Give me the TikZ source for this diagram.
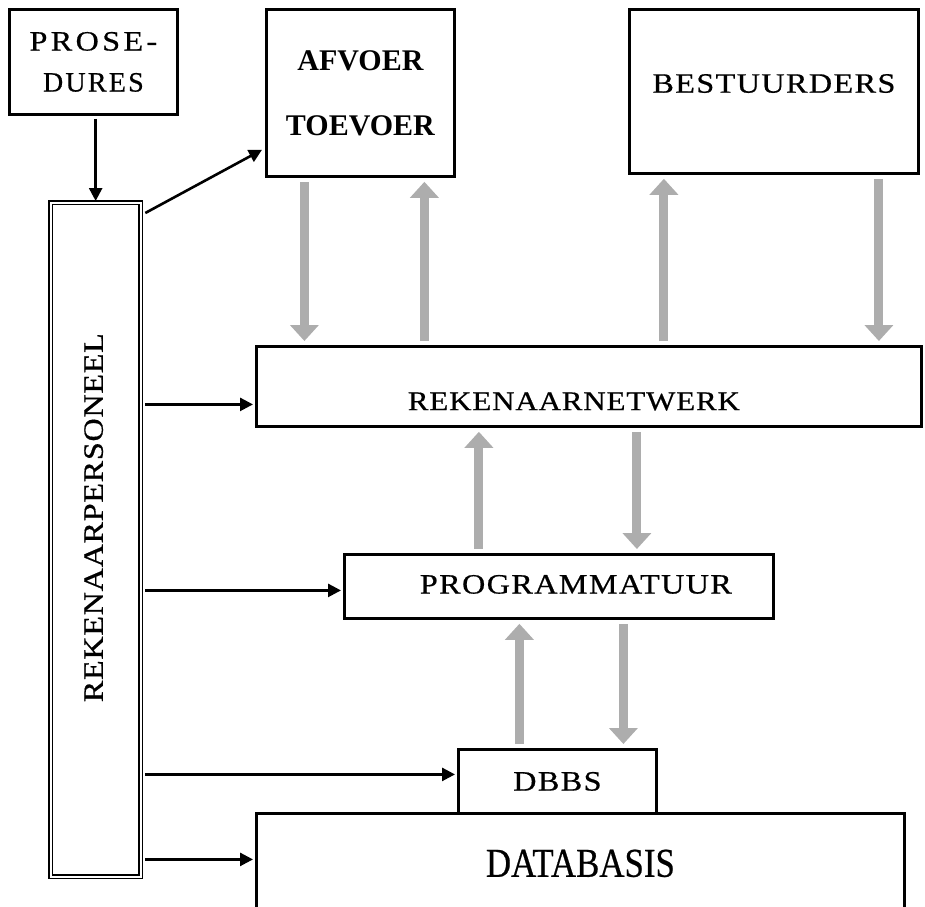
\documentclass[tikz,border=0pt]{standalone}
\usepackage{fontspec}
\setmainfont{Liberation Serif}
\newfontfamily\narrowfont[FakeStretch=0.85,FakeBold=0.5]{Liberation Serif}
\newfontfamily\widefont[FakeStretch=1.15,FakeBold=0.6]{Liberation Serif}
\usetikzlibrary{arrows.meta,positioning,calc}

\tikzset{
  box/.style={draw, line width=2.8pt, inner sep=0pt, anchor=north west},
  lbl/.style={font=\widefont\fontsize{28}{32}\selectfont\addfontfeature{LetterSpace=#1}},
  lbl/.default=5,
  arr/.style={line width=2.6pt, -{Triangle[width=13pt,length=13pt]}},
  flow/.style={line width=9pt, black!32, -{Triangle[width=28pt,length=16pt]},
    shorten <=4pt, shorten >=4pt}
}

\begin{document}
\begin{tikzpicture}[x=1pt,y=-1pt]
  \useasboundingbox (0,0) rectangle (925,906);

  % boxes
  \node[box, minimum width=168pt, minimum height=105pt, align=center,
    font=\fontsize{28}{41}\selectfont] (pros) at (8,8)
    {{\widefont\addfontfeature{LetterSpace=12}PROSE-}\\
     {\addfontfeature{LetterSpace=8,FakeBold=0.6}DURES}};
  \node[box, minimum width=188pt, minimum height=167pt, align=center,
    font=\bfseries\fontsize{30}{65}\selectfont] (afv) at (265,8) {AFVOER\\TOEVOER};
  \node[box, lbl, minimum width=289pt, minimum height=164pt,
    text depth=16pt] (best) at (628,8) {BESTUURDERS};
  \node[box, minimum width=665pt, minimum height=80pt] (rn) at (255,345) {};
  \node[box, minimum width=429pt, minimum height=64pt] (prog) at (343,553) {};
  \node[box, lbl, minimum width=198pt, minimum height=64pt] (dbbs) at (457,748) {DBBS};
  \node[box, minimum width=648pt, minimum height=100pt,
    font=\narrowfont\fontsize{41}{48}\selectfont] (db) at (255,812) {DATABASIS};
  \node[box, line width=1.3pt, double, double distance=2pt,
    minimum width=90pt, minimum height=674pt] (rp) at (50,202) {};

  % texts
  \node[font=\widefont\fontsize{27}{30}\selectfont\addfontfeature{LetterSpace=3},
    xshift=-15pt, yshift=-15pt] (rntext) at (rn.center) {REKENAARNETWERK};
  \node[lbl, xshift=17pt, yshift=2pt] (progtext) at (prog.center) {PROGRAMMATUUR};
  \node[lbl=2.5, rotate=90, xshift=22pt, yshift=2pt]
    (rptext) at (rp.center) {REKENAARPERSONEEL};

  % black arrows
  \draw[arr, shorten <=3pt, shorten >=1pt] (rp.north |- pros.south) -- (rp.north);
  \draw[arr] ([xshift=4pt,yshift=-11pt]rp.north east) -- ([xshift=-3pt,yshift=28pt]afv.south west);

  \coordinate (rnin) at ([yshift=-18pt]rn.west);
  \coordinate (progin) at ([yshift=-4pt]prog.west);
  \coordinate (dbbsin) at ([yshift=7pt]dbbs.west);
  \coordinate (dbin) at ([yshift=4pt]db.west);
  \foreach \t in {rnin,progin,dbbsin,dbin}
    \draw[arr, shorten <=4pt, shorten >=2pt] (rp.east |- \t) -- (\t);

  % grey flows
  \draw[flow] ([xshift=-56pt]afv.south) -- ([xshift=-56pt]afv.south |- rn.north);
  \draw[flow] ([xshift=64pt]afv.south |- rn.north) -- ([xshift=64pt]afv.south);
  \draw[flow] ([xshift=-110pt]best.south |- rn.north) -- ([xshift=-110pt]best.south);
  \draw[flow] ([xshift=105pt]best.south) -- ([xshift=105pt]best.south |- rn.north);

  \draw[flow] ([xshift=-80pt]prog.north) -- ([xshift=-80pt]prog.north |- rn.south);
  \draw[flow] ([xshift=78pt]prog.north |- rn.south) -- ([xshift=78pt]prog.north);

  \draw[flow] ([xshift=-38pt]dbbs.north) -- ([xshift=-38pt]dbbs.north |- prog.south);
  \draw[flow] ([xshift=66pt]dbbs.north |- prog.south) -- ([xshift=66pt]dbbs.north);
\end{tikzpicture}
\end{document}
